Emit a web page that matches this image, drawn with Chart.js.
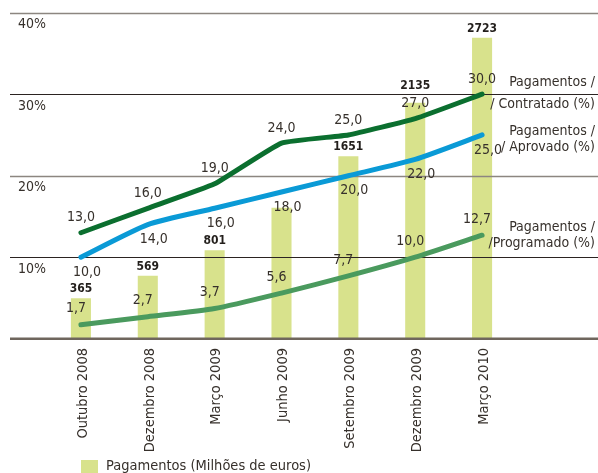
<!DOCTYPE html>
<html><head><meta charset="utf-8">
<script src="https://cdn.jsdelivr.net/npm/chart.js@4/dist/chart.umd.min.js"></script>
<style>html,body{margin:0;padding:0;background:#fff}canvas{display:block}</style>
</head><body>
<canvas id="c" width="598" height="473"></canvas>
<script>
const categories = ["Outubro 2008","Dezembro 2008","Março 2009","Junho 2009","Setembro 2009","Dezembro 2009","Março 2010"];
const pagamentos = [365, 569, 801, 1185, 1651, 2135, 2723];
const pagamentosLabels = ["365","569","801","","1651","2135","2723"];
const contratado = [13.0, 16.0, 19.0, 24.0, 25.0, 27.0, 30.0];
const aprovado = [10.0, 14.0, 16.0, 18.0, 20.0, 22.0, 25.0];
const programado = [1.7, 2.7, 3.7, 5.6, 7.7, 10.0, 12.7];
const pctTicks = [10, 20, 30, 40];
const seriesNames = {
  bar: "Pagamentos (Milhões de euros)",
  contratado: ["Pagamentos /", "/ Contratado (%)"],
  aprovado: ["Pagamentos /", "/ Aprovado (%)"],
  programado: ["Pagamentos /", "/Programado (%)"]
};

const FONT = '"Liberation Sans Narrow", "DejaVu Sans Condensed", "Roboto", sans-serif';
const TXT = '#36302b';
const fmt = v => v.toFixed(1).replace('.', ',');

const overlay = {
  id: 'overlay',
  afterDatasetDraw(chart, args) {
    if (args.index !== 0) return;
    const ctx = chart.ctx, y = chart.scales.y;
    ctx.save();
    const styles = {40: ['#8c8680', 1.5], 30: ['#2b2321', 1.2], 20: ['#8c8680', 1.5], 10: ['#2b2321', 1.2]};
    pctTicks.forEach(t => {
      const py = Math.round(y.getPixelForValue(t)) + 0.5;
      ctx.strokeStyle = styles[t][0]; ctx.lineWidth = styles[t][1];
      ctx.beginPath(); ctx.moveTo(10, py); ctx.lineTo(598, py); ctx.stroke();
    });
    const by = y.getPixelForValue(0);
    ctx.strokeStyle = '#6f665d'; ctx.lineWidth = 2.5;
    ctx.beginPath(); ctx.moveTo(10, by); ctx.lineTo(598, by); ctx.stroke();
    ctx.restore();
  },
  afterDraw(chart) {
    const ctx = chart.ctx, x = chart.scales.x, y = chart.scales.y, y2 = chart.scales.y2;
    ctx.save();
    ctx.fillStyle = TXT;
    // y tick labels
    ctx.font = '14px ' + FONT; ctx.textAlign = 'left'; ctx.textBaseline = 'middle';
    pctTicks.forEach(t => ctx.fillText(t + '%', 18, y.getPixelForValue(t) + 12));
    // bar labels (lifted above the line label when they would collide)
    ctx.font = 'bold 12px ' + FONT; ctx.textAlign = 'center'; ctx.fillStyle = '#231f1c';
    pagamentos.forEach((v, i) => {
      if (!pagamentosLabels[i]) return;
      let ly = y2.getPixelForValue(v) - 9;
      const cl = y.getPixelForValue(contratado[i]) - 15;
      if (Math.abs(ly - cl) < 14) ly = cl - 18;
      ctx.fillText(pagamentosLabels[i], x.getPixelForValue(i), ly);
    });
    // line labels
    ctx.font = '14px ' + FONT; ctx.fillStyle = TXT;
    const put = (arr, dx, dy) => arr.forEach((v, i) => ctx.fillText(fmt(v), x.getPixelForValue(i) + dx, y.getPixelForValue(v) + dy));
    put(contratado, 0, -15);
    put(aprovado, 6, 15);
    put(programado, -5, -16);
    // series names on right
    ctx.textAlign = 'right';
    ctx.fillText(seriesNames.contratado[0], 595, 82);
    ctx.fillText(seriesNames.contratado[1], 595, 104);
    ctx.fillText(seriesNames.aprovado[0], 595, 131);
    ctx.fillText(seriesNames.aprovado[1], 595, 147);
    ctx.fillText(seriesNames.programado[0], 595, 227);
    ctx.fillText(seriesNames.programado[1], 595, 243);
    // category labels rotated
    ctx.font = '14.5px ' + FONT;
    ctx.textAlign = 'right';
    categories.forEach((c, i) => {
      ctx.save();
      ctx.translate(x.getPixelForValue(i) + 2, 348);
      ctx.rotate(-Math.PI / 2);
      ctx.fillText(c, 0, 0);
      ctx.restore();
    });
    // legend
    ctx.fillStyle = '#d8e28c';
    ctx.fillRect(81, 460, 17, 14);
    ctx.fillStyle = TXT; ctx.textAlign = 'left';
    ctx.fillText(seriesNames.bar, 106, 466);
    ctx.restore();
  }
};

const lineBase = { type: 'line', yAxisID: 'y', borderWidth: 5, pointRadius: 0, borderCapStyle: 'round', borderJoinStyle: 'round', fill: false };

new Chart(document.getElementById('c'), {
  type: 'bar',
  data: {
    labels: categories,
    datasets: [
      { type: 'bar', label: seriesNames.bar, data: pagamentos, yAxisID: 'y2', backgroundColor: '#d8e28c', barPercentage: 0.3, categoryPercentage: 1, order: 10 },
      Object.assign({}, lineBase, { label: 'Contratado', data: contratado, borderColor: '#0b6f2f', tension: 0.12, order: 1 }),
      Object.assign({}, lineBase, { label: 'Aprovado', data: aprovado, borderColor: '#0a9ad6', tension: 0.2, order: 2 }),
      Object.assign({}, lineBase, { label: 'Programado', data: programado, borderColor: '#4a9a5e', tension: 0.2, order: 3 })
    ]
  },
  options: {
    responsive: false, animation: false, devicePixelRatio: 1,
    layout: { padding: { left: 47.5, right: 82.5, top: 12.7, bottom: 134.3 } },
    plugins: { legend: { display: false }, tooltip: { enabled: false } },
    scales: {
      x: { display: false, offset: true },
      y: { display: false, min: 0, max: 40 },
      y2: { display: false, min: 0, max: 2950 }
    }
  },
  plugins: [overlay]
});
</script>
</body></html>
